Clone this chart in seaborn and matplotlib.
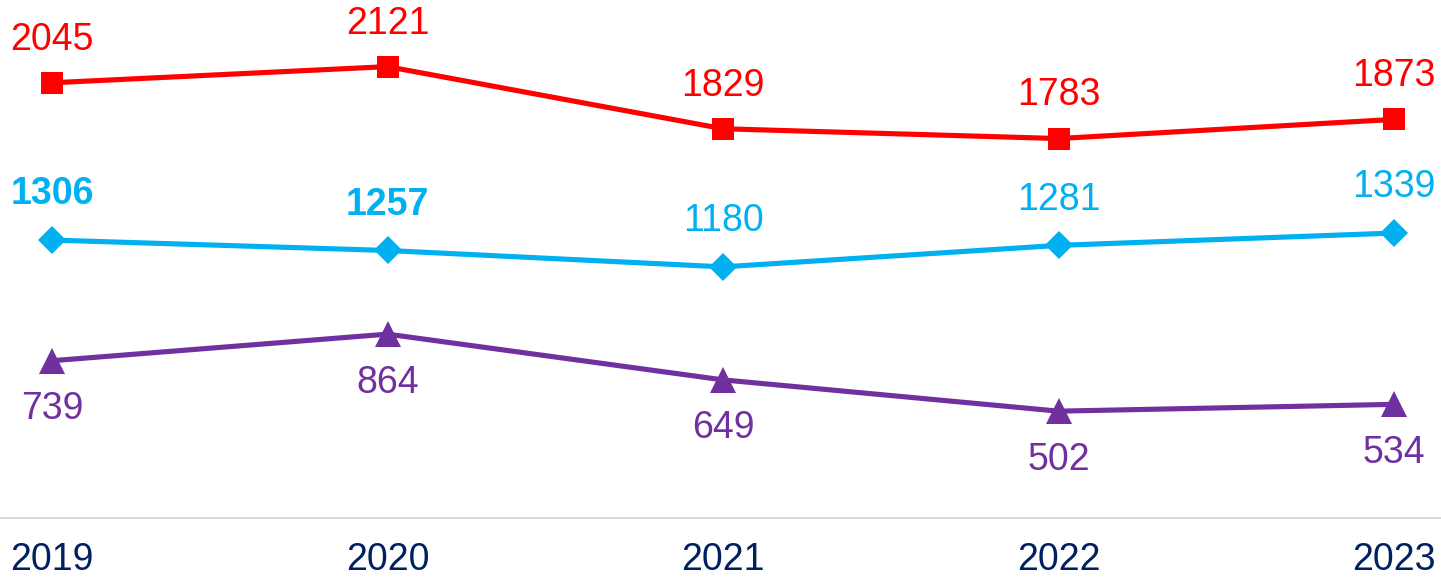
import matplotlib
matplotlib.use("Agg")
import matplotlib.pyplot as plt
import seaborn as sns
import pandas as pd

years = ["2019", "2020", "2021", "2022", "2023"]
red_vals = [2045, 2121, 1829, 1783, 1873]
blue_vals = [1306, 1257, 1180, 1281, 1339]
purple_vals = [739, 864, 649, 502, 534]
blue_bold = [True, True, False, False, False]

sns.set_theme(style="white")
plt.rcParams["font.family"] = ["Liberation Sans", "DejaVu Sans"]

RED = "#FF0000"
BLUE = "#00B0F0"
PURPLE = "#7030A0"
NAVY = "#002060"

df = pd.DataFrame({
    "x": list(range(5)) * 3,
    "value": red_vals + blue_vals + purple_vals,
    "series": ["red"] * 5 + ["blue"] * 5 + ["purple"] * 5,
})

fig = plt.figure(figsize=(14.41, 5.79), dpi=100)
ax = fig.add_axes([0, 61 / 579, 1, 518 / 579])

palette = {"red": RED, "blue": BLUE, "purple": PURPLE}
markers = {"red": "s", "blue": "D", "purple": "^"}
sizes_ms = {"red": 15.8, "blue": 14.3, "purple": 18.7}

for name in ["red", "blue", "purple"]:
    sub = df[df["series"] == name]
    sns.lineplot(data=sub, x="x", y="value", ax=ax, color=palette[name],
                 marker=markers[name], markersize=sizes_ms[name],
                 markeredgewidth=0, linewidth=3.7, legend=False)

fs = 27
for i, v in enumerate(red_vals):
    ax.annotate(str(v), (i, v), xytext=(0, 31), textcoords="offset points",
                ha="center", va="center", fontsize=fs, color=RED)
for i, v in enumerate(blue_vals):
    ax.annotate(str(v), (i, v), xytext=(0, 33), textcoords="offset points",
                ha="center", va="center", fontsize=fs, color=BLUE,
                fontweight="bold" if blue_bold[i] else "normal")
for i, v in enumerate(purple_vals):
    ax.annotate(str(v), (i, v), xytext=(0, -35), textcoords="offset points",
                ha="center", va="center", fontsize=fs, color=PURPLE)

ax.set_xlim(-0.155, 4.14)
ax.set_ylim(0, 2434)
ax.set_xticks(range(5))
ax.set_xticklabels(years, fontsize=fs, color=NAVY)
ax.set_yticks([])
ax.tick_params(axis="x", length=0, pad=17)
ax.set_xlabel("")
ax.set_ylabel("")
for s in ["top", "left", "right"]:
    ax.spines[s].set_visible(False)
ax.spines["bottom"].set_color("#D9D9D9")
ax.spines["bottom"].set_linewidth(1.5)
ax.patch.set_alpha(0)

fig.savefig("out.png", dpi=100)
